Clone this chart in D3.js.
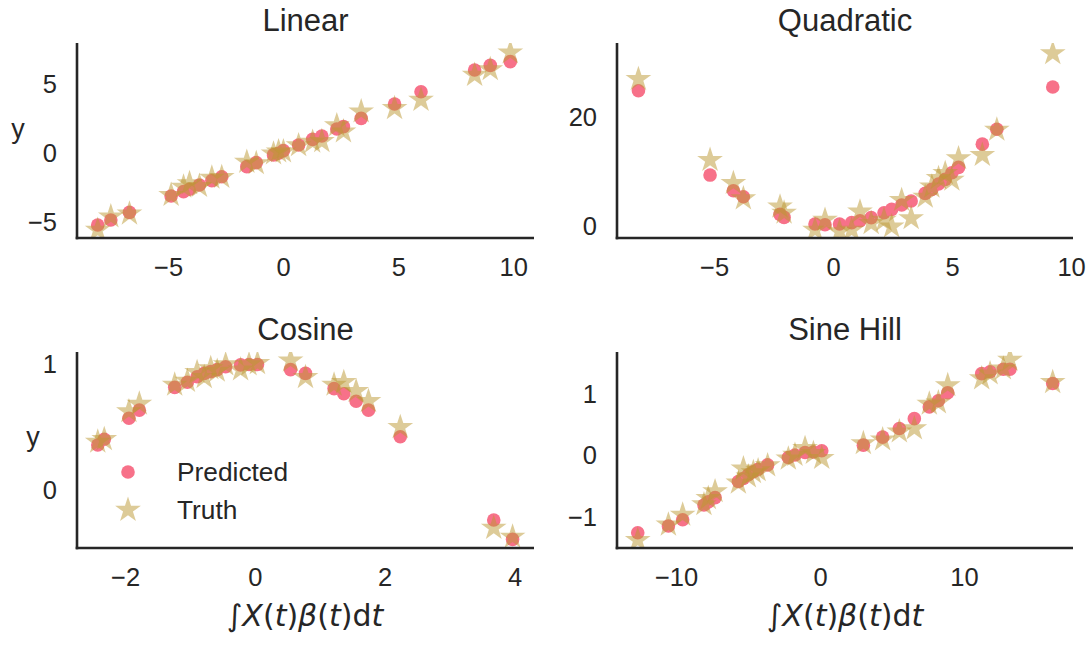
<!DOCTYPE html>
<html><head><meta charset="utf-8">
<script src="https://cdn.jsdelivr.net/npm/d3@7"></script>
<style>body{margin:0;background:#fff}svg{display:block}</style>
</head><body>
<svg id="c" width="1089" height="645"></svg>
<script>
// ---------- data ----------
const linX = [-8.06,-7.49,-6.68,-4.87,-4.33,-4.07,-3.64,-3.10,-2.67,-1.58,-1.17,-0.42,-0.20,0.01,0.67,1.28,1.68,2.33,2.62,3.39,4.84,5.99,8.32,9.00,9.87];
const linPred = [-5.22,-4.86,-4.30,-3.12,-2.80,-2.63,-2.32,-2.00,-1.72,-0.99,-0.70,-0.14,-0.02,0.17,0.58,0.99,1.23,1.74,1.91,2.51,3.55,4.44,6.01,6.35,6.62];
const linTruth = [-5.58,-4.61,-4.40,-3.05,-2.45,-2.20,-2.40,-1.80,-1.75,-0.65,-0.75,-0.05,0.10,0.10,0.55,0.80,0.85,2.00,1.55,3.00,3.24,3.84,5.65,6.06,7.27];

const quadX = [-8.18,-5.17,-4.19,-3.77,-2.23,-2.06,-0.76,-0.34,0.27,0.78,1.13,1.60,2.14,2.46,2.88,3.28,3.87,4.15,4.43,4.71,4.99,5.27,6.27,6.88,9.23];
const quadPred = [24.6,9.27,6.42,5.33,2.12,1.58,0.36,0.24,0.36,0.61,0.97,1.52,2.42,3.03,3.82,4.55,5.94,6.67,7.64,8.48,9.70,10.67,14.9,17.6,25.3];
const quadTruth = [26.7,12.0,7.8,5.0,3.5,2.4,-0.7,1.1,-1.0,-0.7,2.6,0.5,1.1,-0.1,4.7,1.4,5.3,7.15,8.7,9.6,8.4,12.3,12.9,17.5,31.4];

const cosX = [-2.42,-2.32,-1.94,-1.78,-1.235,-1.04,-0.89,-0.78,-0.68,-0.58,-0.45,-0.22,-0.09,0.04,0.55,0.78,1.22,1.37,1.56,1.75,2.24,3.68,3.97];
const cosPred = [0.355,0.40,0.566,0.63,0.81,0.85,0.894,0.92,0.934,0.95,0.973,0.987,0.99,0.99,0.95,0.92,0.80,0.76,0.70,0.63,0.42,-0.237,-0.39];
const cosTruth = [0.38,0.40,0.62,0.68,0.83,0.86,0.93,0.89,0.96,0.94,0.99,0.95,0.99,1.00,1.02,0.89,0.83,0.85,0.78,0.70,0.495,-0.30,-0.37];

const sineX = [-12.66,-10.53,-9.54,-8.06,-7.76,-7.29,-5.67,-5.32,-4.98,-4.63,-4.30,-3.64,-2.20,-1.74,-1.04,-0.46,0.12,3.01,4.35,5.51,6.55,7.59,8.22,8.87,11.23,11.81,12.73,13.19,16.16];
const sinePred = [-1.26,-1.15,-1.05,-0.81,-0.76,-0.69,-0.43,-0.38,-0.32,-0.27,-0.23,-0.16,-0.04,0.0,0.04,0.05,0.07,0.16,0.29,0.43,0.59,0.78,0.88,1.01,1.32,1.35,1.39,1.39,1.16];
const sineTruth = [-1.38,-1.13,-0.97,-0.80,-0.70,-0.59,-0.45,-0.22,-0.35,-0.28,-0.25,-0.17,-0.06,0.0,0.11,0.03,-0.05,0.19,0.25,0.38,0.43,0.83,0.85,1.13,1.24,1.32,1.40,1.54,1.18];

const titles = ["Linear","Quadratic","Cosine","Sine Hill"];
const xLims = [[-8.96,10.9],[-9.08,10.08],[-2.74,4.30],[-14.1,17.57]];
const yLims = [[-6.16,7.97],[-2.18,33.3],[-0.458,1.089],[-1.507,1.67]];
const xTicks = [[-5,0,5,10],[-5,0,5,10],[-2,0,2,4],[-10,0,10]];
const yTicks = [[-5,0,5],[0,20],[0,1],[-1,0,1]];
const legendLabels = ["Predicted","Truth"];
// ---------------------------

const series = [
  {x:linX,p:linPred,t:linTruth},
  {x:quadX,p:quadPred,t:quadTruth},
  {x:cosX,p:cosPred,t:cosTruth},
  {x:sineX,p:sinePred,t:sineTruth}
];
const boxes = [
  {l:77,r:534,t:43,b:238},
  {l:617,r:1073,t:43,b:238},
  {l:77,r:534,t:352,b:548},
  {l:617,r:1073,t:352,b:548}
];
const PINK = "#f77189", TAN = "#bb9832", INK = "#262626";
const FONT = "'Liberation Sans', Arial, sans-serif";
const svg = d3.select("#c");
const starPath = (R) => {
  const r = R*0.381966; let s = "";
  for (let i=0;i<10;i++){
    const a = -Math.PI/2 + i*Math.PI/5; const rr = i%2===0?R:r;
    s += (i===0?"M":"L") + (rr*Math.cos(a)).toFixed(2) + "," + (rr*Math.sin(a)).toFixed(2);
  }
  return s + "Z";
};
const STAR = starPath(13.5);

boxes.forEach((b,i)=>{
  const x = d3.scaleLinear().domain(xLims[i]).range([b.l,b.r]);
  const y = d3.scaleLinear().domain(yLims[i]).range([b.b,b.t]);
  const g = svg.append("g");
  svg.append("clipPath").attr("id","clip"+i).append("rect")
    .attr("x",b.l).attr("y",b.t).attr("width",b.r-b.l).attr("height",b.b-b.t);
  const pts = g.append("g").attr("clip-path",`url(#clip${i})`);
  const d = series[i].x.map((v,k)=>({x:v,p:series[i].p[k],t:series[i].t[k]}));
  pts.selectAll("circle").data(d).join("circle")
    .attr("cx",e=>x(e.x)).attr("cy",e=>y(e.p)).attr("r",6.8).attr("fill",PINK);
  pts.selectAll("path").data(d).join("path")
    .attr("d",STAR).attr("transform",e=>`translate(${x(e.x)},${y(e.t)})`)
    .attr("fill",TAN).attr("fill-opacity",0.5);

  // axes
  const xa = g.append("g").attr("transform",`translate(0,${b.b})`)
    .call(d3.axisBottom(x).tickValues(xTicks[i]).tickSize(0).tickPadding(20).tickFormat(v=>String(v).replace("-","\u2212")));
  const ya = g.append("g").attr("transform",`translate(${b.l},0)`)
    .call(d3.axisLeft(y).tickValues(yTicks[i]).tickSize(0).tickPadding(20).tickFormat(v=>String(v).replace("-","\u2212")));
  [xa,ya].forEach(a=>{
    a.select(".domain").remove();
    a.selectAll("text").attr("font-family",FONT).attr("font-size",25.5).attr("fill",INK);
  });
  xa.selectAll("text").attr("dy","0.71em");
  ya.selectAll("text").attr("dy","0.35em");
  g.append("line").attr("x1",b.l).attr("x2",b.l).attr("y1",b.t).attr("y2",b.b+1.3)
    .attr("stroke",INK).attr("stroke-width",2.6);
  g.append("line").attr("x1",b.l-1.3).attr("x2",b.r).attr("y1",b.b).attr("y2",b.b)
    .attr("stroke",INK).attr("stroke-width",2.6);
  g.append("text").attr("x",(b.l+b.r)/2).attr("y",b.t-12).attr("text-anchor","middle")
    .attr("font-family",FONT).attr("font-size",31).attr("fill",INK).text(titles[i]);
});

// y labels
svg.append("text").attr("x",18).attr("y",138).attr("text-anchor","middle")
  .attr("font-family",FONT).attr("font-size",27).attr("fill",INK).text("y");
svg.append("text").attr("x",33).attr("y",446).attr("text-anchor","middle")
  .attr("font-family",FONT).attr("font-size",27).attr("fill",INK).text("y");

// x labels (math)
const parts = [["\u222B","normal"],["X","italic"],["(","normal"],["t","italic"],[")","normal"],["\u03B2","italic"],["(","normal"],["t","italic"],[")","normal"],["d","normal"],["t","italic"]];
[305,845].forEach(cx=>{
  const t = svg.append("text").attr("x",cx).attr("y",626).attr("text-anchor","middle")
    .attr("font-family","'DejaVu Sans', sans-serif").attr("font-size",30).attr("fill",INK);
  parts.forEach(p=>t.append("tspan").attr("font-style",p[1]).text(p[0]));
});

// legend
const lg = svg.append("g");
lg.append("circle").attr("cx",128).attr("cy",472).attr("r",6.8).attr("fill",PINK);
lg.append("path").attr("d",STAR).attr("transform","translate(128,510)").attr("fill",TAN).attr("fill-opacity",0.5);
lg.append("text").attr("x",177).attr("y",481).attr("font-family",FONT).attr("font-size",26.3).attr("fill",INK).text(legendLabels[0]);
lg.append("text").attr("x",177).attr("y",519).attr("font-family",FONT).attr("font-size",26.3).attr("fill",INK).text(legendLabels[1]);
</script>
</body></html>
